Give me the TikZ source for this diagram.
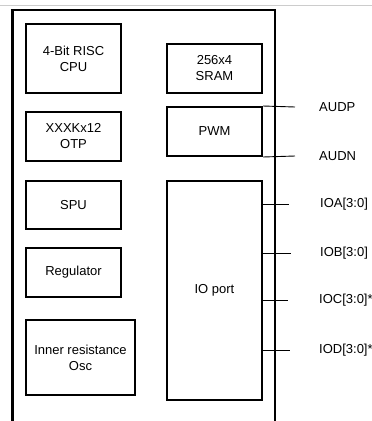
\documentclass[tikz,border=0pt]{standalone}
\usepackage{fontspec}
\setmainfont{Liberation Sans}
\begin{document}
\begin{tikzpicture}[x=1pt,y=-1pt,
  blk/.style={draw,line width=2pt,inner sep=0pt,align=center,font=\fontsize{13}{16}\selectfont},
  pin/.style={line width=0.9pt},
  lbl/.style={anchor=west,inner sep=0pt,font=\fontsize{13}{15}\selectfont}]
\useasboundingbox (0,0) rectangle (372,421);
\draw[gray!40,line width=1pt] (0,5) -- (372,5);
% outer frame
\coordinate (ftl) at (12,10);
\coordinate (ftr) at (275,10);
\coordinate (fbl) at (12,421);
\coordinate (fbr) at (275,421);
\draw[line width=3pt] (fbl) -- (ftl |- 0,11);
\draw[line width=2.5pt] (10.5,10) -- (276,10);
\draw[line width=2pt] (ftr) -- (fbr);
% left blocks
\node[blk,minimum width=95pt,minimum height=69pt] (cpu) at (73.5,58.5) {4-Bit RISC\\CPU};
\node[blk,minimum width=95pt,minimum height=49pt] (otp) at (73.5,136.5) {XXXKx12\\OTP};
\node[blk,minimum width=95pt,minimum height=48pt] (spu) at (73.5,205) {SPU};
\node[blk,minimum width=95pt,minimum height=49pt] (reg) at (73.5,272.5) {Regulator};
\node[blk,minimum width=109pt,minimum height=75pt] (osc) at (80.5,357.5) {Inner resistance\\Osc};
% right blocks
\node[blk,minimum width=95pt,minimum height=49pt] (sram) at (214.5,68.5) {256x4\\SRAM};
\node[blk,minimum width=95pt,minimum height=49pt] (pwm) at (214.5,131.5) {PWM};
\node[blk,minimum width=95pt,minimum height=219pt] (io) at (214.5,290.5) {IO port};
% pins
\coordinate (pA) at (295,107);
\coordinate (pB) at (295,156);
\coordinate (p1) at (289,204);
\coordinate (p2) at (291,253);
\coordinate (p3) at (288,300);
\coordinate (p4) at (290,350);
\draw[pin] (pwm.north east) -- (pA);
\draw[pin] (pwm.south east) -- (pB);
\draw[pin] (io.east |- p1) -- (p1);
\draw[pin] (io.east |- p2) -- (p2);
\draw[pin] (io.east |- p3) -- (p3);
\draw[pin] (io.east |- p4) -- (p4);
\node[lbl] (la) at (319,107) {AUDP};
\node[lbl] (lb) at (319,156) {AUDN};
\node[lbl] (l1) at (320,204) {IOA[3:0]};
\node[lbl] (l2) at (320,253) {IOB[3:0]};
\node[lbl] (l3) at (319,300) {IOC[3:0]*};
\node[lbl] (l4) at (319,350) {IOD[3:0]*};
\end{tikzpicture}
\end{document}
